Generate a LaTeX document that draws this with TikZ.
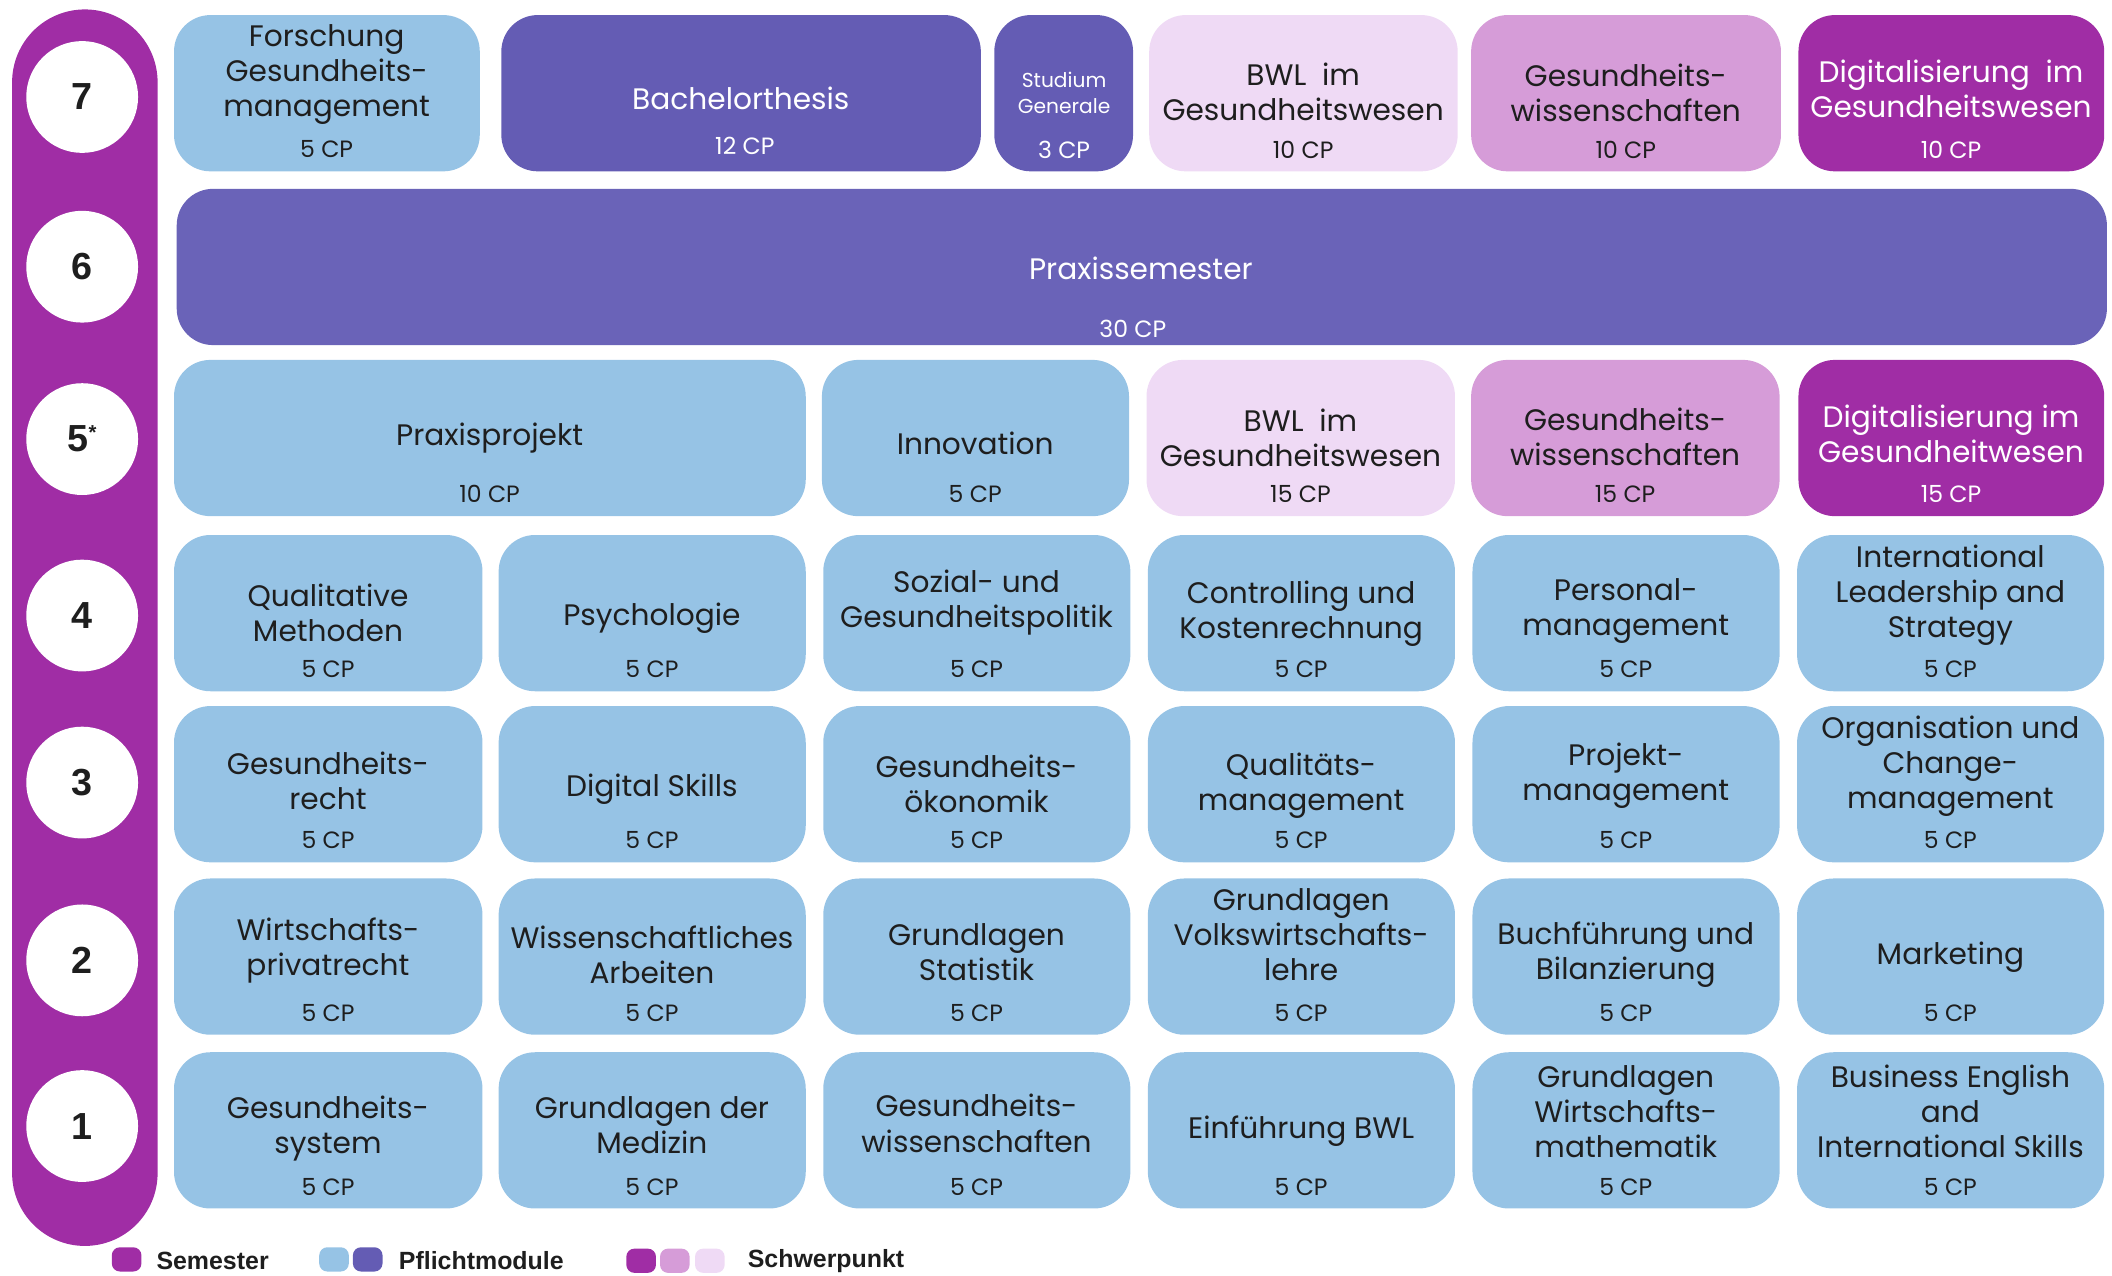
\documentclass[tikz,border=0pt]{standalone}
\usepackage{fontspec}
\setmainfont{Poppins}
\newfontfamily\lsans{Liberation Sans}
\definecolor{semp}{HTML}{A02DA5}
\definecolor{lblue}{HTML}{96C3E5}
\definecolor{dblue}{HTML}{645CB4}
\definecolor{pblue}{HTML}{6A63B8}
\definecolor{lav}{HTML}{EFDAF5}
\definecolor{pinkp}{HTML}{D69CD8}
\definecolor{ink}{HTML}{1E1E1E}
\tikzset{
  box/.style={rounded corners=27pt, inner sep=0pt, minimum height=116pt, anchor=north west},
  title/.style={align=center, inner sep=0pt, yshift=-2pt, font=\fontsize{22}{26}\selectfont},
  cpt/.style={inner sep=0pt, font=\fontsize{17.5}{19}\selectfont},
  semc/.style={circle, fill=white, minimum size=83pt, inner sep=0pt, text=ink, font=\lsans\bfseries\fontsize{28}{30}\selectfont},
  swatch/.style={rounded corners=6pt, minimum width=22pt, minimum height=18pt, inner sep=0pt},
  legt/.style={anchor=west, inner sep=0pt, text=ink, font=\lsans\bfseries\fontsize{18.5}{20}\selectfont}
}
\newcommand\modul[9]{%
  \pgfmathsetmacro\mxc{(#4+#5)/2}%
  \pgfmathsetmacro\mw{#5-#4}%
  \pgfmathsetmacro\mcy{#6+100}%
  \node[box, fill=#2, minimum width=\mw pt] (#1) at (#4,#6) {};
  \node[title, text=#3] (#1t) at (\mxc,#8) {#7};
  \node[cpt, text=#3] (#1c) at (\mxc,\mcy) {#9};
}
\begin{document}
\begin{tikzpicture}[x=1pt,y=-1pt]
\useasboundingbox (0,0) rectangle (1568,947);
% semester bar
\fill[semp, rounded corners=54pt] (9,7) rectangle (117,925);
\node[semc] (s7) at (61,72) {7};
\node[semc] (s6) at (61,198) {6};
\node[semc] (s5) at (61,326) {5\raisebox{9pt}{\fontsize{15}{15}\selectfont *}};
\node[semc] (s4) at (61,457) {4};
\node[semc] (s3) at (61,581) {3};
\node[semc] (s2) at (61,713) {2};
\node[semc] (s1) at (61,836) {1};
% row 7
\modul{a1}{lblue}{ink}{129}{356}{11}{Forschung\\Gesundheits-\\management}{53}{5 CP}
\node[box, fill=dblue, minimum width=356pt] (a2) at (372,11) {};
\node[title, text=white] (a2t) at (550,71) {Bachelorthesis};
\node[cpt, text=white] (a2c) at (553,108) {12 CP};
\node[box, fill=dblue, minimum width=103pt] (a3) at (738,11) {};
\node[title, text=white, font=\fontsize{15}{19}\selectfont] (a3t) at (790,67) {Studium\\Generale};
\node[cpt, text=white] (a3c) at (790,111) {3 CP};
\modul{a4}{lav}{ink}{853}{1082}{11}{BWL\ \ im\\Gesundheitswesen}{66}{10 CP}
\modul{a5}{pinkp}{ink}{1092}{1322}{11}{Gesundheits-\\wissenschaften}{67}{10 CP}
\modul{a6}{semp}{white}{1335}{1562}{11}{Digitalisierung\ \ im\\Gesundheitswesen}{64}{10 CP}
% row 6
\node[box, fill=pblue, minimum width=1433pt] (b1) at (131,140) {};
\node[title, text=white] (b1t) at (847,197) {Praxissemester};
\node[cpt, text=white] (b1c) at (841,244) {30 CP};
% row 5
\modul{c1}{lblue}{ink}{129}{598}{267}{Praxisprojekt}{323}{10 CP}
\modul{c2}{lblue}{ink}{610}{838}{267}{Innovation}{327}{5 CP}
\modul{c3}{lav}{ink}{851}{1080}{267}{BWL\ \ im\\Gesundheitswesen}{323}{15 CP}
\modul{c4}{pinkp}{ink}{1092}{1321}{267}{Gesundheits-\\wissenschaften}{322}{15 CP}
\modul{c5}{semp}{white}{1335}{1562}{267}{Digitalisierung im\\Gesundheitwesen}{320}{15 CP}
% row 4
\modul{d1}{lblue}{ink}{129}{358}{397}{Qualitative\\Methoden}{453}{5 CP}
\modul{d2}{lblue}{ink}{370}{598}{397}{Psychologie}{457}{5 CP}
\modul{d3}{lblue}{ink}{611}{839}{397}{Sozial- und\\Gesundheitspolitik}{445}{5 CP}
\modul{d4}{lblue}{ink}{852}{1080}{397}{Controlling und\\Kostenrechnung}{454}{5 CP}
\modul{d5}{lblue}{ink}{1093}{1321}{397}{Personal-\\management}{452}{5 CP}
\modul{d6}{lblue}{ink}{1334}{1562}{397}{International\\Leadership and\\Strategy}{440}{5 CP}
% row 3
\modul{e1}{lblue}{ink}{129}{358}{524}{Gesundheits-\\recht}{578}{5 CP}
\modul{e2}{lblue}{ink}{370}{598}{524}{Digital Skills}{584}{5 CP}
\modul{e3}{lblue}{ink}{611}{839}{524}{Gesundheits-\\ökonomik}{580}{5 CP}
\modul{e4}{lblue}{ink}{852}{1080}{524}{Qualitäts-\\management}{581}{5 CP}
\modul{e5}{lblue}{ink}{1093}{1321}{524}{Projekt-\\management}{574}{5 CP}
\modul{e6}{lblue}{ink}{1334}{1562}{524}{Organisation und\\Change-\\management}{567}{5 CP}
% row 2
\modul{f1}{lblue}{ink}{129}{358}{652}{Wirtschafts-\\privatrecht}{704}{5 CP}
\modul{f2}{lblue}{ink}{370}{598}{652}{Wissenschaftliches\\Arbeiten}{707}{5 CP}
\modul{f3}{lblue}{ink}{611}{839}{652}{Grundlagen\\Statistik}{705}{5 CP}
\modul{f4}{lblue}{ink}{852}{1080}{652}{Grundlagen\\Volkswirtschafts-\\lehre}{692}{5 CP}
\modul{f5}{lblue}{ink}{1093}{1321}{652}{Buchführung und\\Bilanzierung}{707}{5 CP}
\modul{f6}{lblue}{ink}{1334}{1562}{652}{Marketing}{709}{5 CP}
% row 1
\modul{g1}{lblue}{ink}{129}{358}{781}{Gesundheits-\\system}{836}{5 CP}
\modul{g2}{lblue}{ink}{370}{598}{781}{Grundlagen der\\Medizin}{833}{5 CP}
\modul{g3}{lblue}{ink}{611}{839}{781}{Gesundheits-\\wissenschaften}{832}{5 CP}
\modul{g4}{lblue}{ink}{852}{1080}{781}{Einführung BWL}{838}{5 CP}
\modul{g5}{lblue}{ink}{1093}{1321}{781}{Grundlagen\\Wirtschafts-\\mathematik}{823}{5 CP}
\modul{g6}{lblue}{ink}{1334}{1562}{781}{Business English\\and\\International Skills}{823}{5 CP}
% legend
\node[swatch, fill=semp] (l1) at (94,935) {};
\node[legt] (l1t) at (116,936) {Semester};
\node[swatch, fill=lblue] (l2) at (248,935) {};
\node[swatch, fill=dblue] (l3) at (273,935) {};
\node[legt] (l3t) at (296,936) {Pflichtmodule};
\node[swatch, fill=semp] (l4) at (476,936) {};
\node[swatch, fill=pinkp] (l5) at (501,936) {};
\node[swatch, fill=lav] (l6) at (527,936) {};
\node[legt] (l6t) at (555,936) {Schwerpunkt};
\end{tikzpicture}
\end{document}
